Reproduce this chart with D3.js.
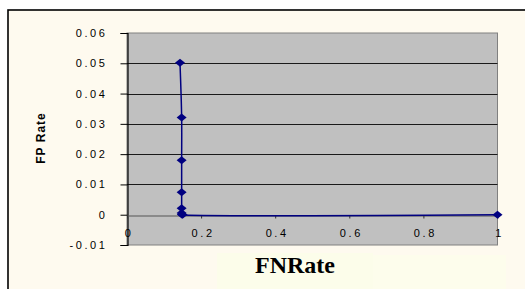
<!DOCTYPE html>
<html><head><meta charset="utf-8">
<script src="https://cdn.jsdelivr.net/npm/d3@7"></script>
<style>body{margin:0;background:#fff}svg{display:block}</style>
</head><body>
<svg id="c" width="525" height="289"></svg>
<script>
const fnRate = [0.143, 0.1475, 0.1475, 0.1475, 0.1475, 0.1475, 0.148, 0.150, 1.0];
const fpRate = [0.0502, 0.0321, 0.0180, 0.0074, 0.0021, 0.0006, 0.0001, 0.0, 0.0];
const yTicks = [-0.01, 0, 0.01, 0.02, 0.03, 0.04, 0.05, 0.06];
const yTickLabels = ["-0.01", "0", "0.01", "0.02", "0.03", "0.04", "0.05", "0.06"];
const xTicks = [0, 0.2, 0.4, 0.6, 0.8, 1];
const xTickLabels = ["0", "0.2", "0.4", "0.6", "0.8", "1"];

const svg = d3.select("#c");
svg.append("rect").attr("x", 8).attr("y", 10).attr("width", 530).attr("height", 290)
  .attr("fill", "#FEFAEF").attr("stroke", "#000").attr("stroke-width", 1.6);
svg.append("rect").attr("x", 217).attr("y", 253).attr("width", 156).attr("height", 40).attr("fill", "#FCFDEA");
svg.append("rect").attr("x", 373).attr("y", 255).attr("width", 133).attr("height", 40).attr("fill", "#FDFDEC");

const L = 127, R = 497.5, T = 33, B = 245;
const x = d3.scaleLinear().domain([0, 1]).range([L, R]);
const y = d3.scaleLinear().domain([-0.01, 0.06]).range([B, T]);

svg.append("rect").attr("x", L).attr("y", T).attr("width", R - L).attr("height", B - T)
  .attr("fill", "#C0C0C0").attr("stroke", "#808080").attr("stroke-width", 1);

svg.append("g").selectAll("line").data(yTicks.filter(v => v > -0.01 && v < 0.06 && v !== 0)).join("line")
  .attr("x1", L).attr("x2", R).attr("y1", d => Math.round(y(d)) + 0.5).attr("y2", d => Math.round(y(d)) + 0.5)
  .attr("stroke", "#1a1a1a").attr("stroke-width", 1);

const font = "Arial, 'Liberation Sans', sans-serif";
const yAxis = d3.axisLeft(y).tickValues(yTicks).tickSize(7).tickFormat((d, i) => yTickLabels[i]);
const gy = svg.append("g").attr("transform", `translate(${L + 0.5},0)`).call(yAxis);
gy.select(".domain").attr("stroke", "#000").attr("stroke-width", 1.2);
gy.selectAll(".tick line").attr("stroke", "#000");
gy.selectAll(".tick text").attr("x", -20).attr("font-family", font)
  .attr("font-size", 11).attr("letter-spacing", "2.6px").attr("fill", "#000");

const xAxis = d3.axisBottom(x).tickValues(xTicks).tickSize(3).tickSizeOuter(0).tickFormat((d, i) => xTickLabels[i]);
const gx = svg.append("g").attr("transform", `translate(0,${Math.round(y(0)) + 0.5})`).call(xAxis);
gx.select(".domain").attr("stroke", "#555").attr("stroke-width", 1.2);
gx.selectAll(".tick line").attr("stroke", "#333");
gx.selectAll(".tick text").attr("y", 14).attr("font-family", font)
  .attr("font-size", 11).attr("letter-spacing", "2.6px").attr("dx", "1.5px").attr("fill", "#000");

const pts = fnRate.map((v, i) => [v, fpRate[i]]);
const line = d3.line().x(d => x(d[0])).y(d => y(d[1])).curve(d3.curveCatmullRom.alpha(0.5));
svg.append("path").datum(pts).attr("d", line).attr("fill", "none")
  .attr("stroke", "#000080").attr("stroke-width", 1.5);

svg.append("g").selectAll("path").data(pts).join("path")
  .attr("transform", d => `translate(${x(d[0])},${y(d[1])})`)
  .attr("d", "M0,-4L5,0L0,4L-5,0Z").attr("fill", "#000080");

svg.append("text").attr("transform", "translate(45,138) rotate(-90)").attr("text-anchor", "middle")
  .attr("font-family", font).attr("font-weight", "bold")
  .attr("font-size", 12).attr("letter-spacing", "1px").text("FP Rate");
svg.append("text").attr("x", 295).attr("y", 273).attr("text-anchor", "middle")
  .attr("font-family", "'Times New Roman', 'Liberation Serif', serif").attr("font-weight", "bold")
  .attr("font-size", 24).text("FNRate");
</script>
</body></html>
